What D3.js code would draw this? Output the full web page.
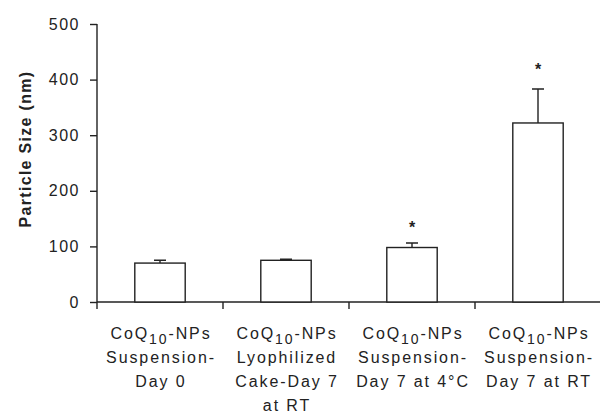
<!DOCTYPE html>
<html>
<head>
<meta charset="utf-8">
<script src="https://cdn.jsdelivr.net/npm/d3@7"></script>
<style>
  body { margin: 0; background: #fff; }
  svg { display: block; font-family: "Liberation Sans", Arial, sans-serif; }
</style>
</head>
<body>
<div id="chart"></div>
<script>
// data
const categories = [
  ["CoQ_{10}-NPs", "Suspension-", "Day 0"],
  ["CoQ_{10}-NPs", "Lyophilized", "Cake-Day 7", "at RT"],
  ["CoQ_{10}-NPs", "Suspension-", "Day 7 at 4°C"],
  ["CoQ_{10}-NPs", "Suspension-", "Day 7 at RT"]
];
const sizes = [70, 75, 98, 322];
const errors = [5, 2, 8, 61];
const significant = [false, false, true, true];
const yTicks = [0, 100, 200, 300, 400, 500];
const yTitle = "Particle Size (nm)";

const width = 600;
const height = 416;
const margin = {top: 24, right: -1, bottom: 114, left: 97};
const ink = "#222";

const svg = d3.select("#chart")
  .append("svg")
  .attr("width", width)
  .attr("height", height);

const idx = d3.range(categories.length);

const x = d3.scaleBand()
  .domain(idx)
  .range([margin.left, width - margin.right])
  .paddingInner(0.6)
  .paddingOuter(0.3);

const y = d3.scaleLinear()
  .domain([0, 500])
  .range([height - margin.bottom, margin.top]);

// y axis
const yAxis = svg.append("g")
  .attr("transform", `translate(${margin.left},0)`)
  .call(d3.axisLeft(y).tickValues(yTicks).tickSize(7).tickPadding(10));
yAxis.select(".domain").attr("stroke", ink).attr("stroke-width", 1.4)
  .attr("d", `M0,${y(500)}V${y(0)}`);
yAxis.selectAll(".tick line").attr("stroke", ink).attr("stroke-width", 1.4);
yAxis.selectAll(".tick text")
  .attr("fill", ink)
  .attr("font-size", 16)
  .attr("letter-spacing", 1.5)
  .attr("font-family", "Liberation Sans, Arial, sans-serif");

svg.append("text")
  .attr("transform", `translate(31,${(y(0) + y(500)) / 2 - 14}) rotate(-90)`)
  .attr("text-anchor", "middle")
  .attr("font-size", 16)
  .attr("font-weight", "bold")
  .attr("letter-spacing", 1.3)
  .attr("fill", ink)
  .text(yTitle);

// x axis line + boundary ticks
const step = x.step();
const left = x(0) - step * x.paddingOuter();
const bounds = d3.range(categories.length + 1).map(i => left + i * step);
svg.append("line")
  .attr("x1", margin.left).attr("x2", width)
  .attr("y1", y(0)).attr("y2", y(0))
  .attr("stroke", ink).attr("stroke-width", 1.4);
svg.append("g").selectAll("line")
  .data(bounds)
  .join("line")
  .attr("x1", d => d).attr("x2", d => d)
  .attr("y1", y(0)).attr("y2", y(0) + 7)
  .attr("stroke", ink).attr("stroke-width", 1.4);

// bars
const bars = svg.append("g");
bars.selectAll("rect")
  .data(idx)
  .join("rect")
  .attr("x", i => x(i))
  .attr("y", i => y(sizes[i]))
  .attr("width", x.bandwidth())
  .attr("height", i => y(0) - y(sizes[i]))
  .attr("fill", "#fff")
  .attr("stroke", ink)
  .attr("stroke-width", 1.4);

// error bars (upper only)
const cx = i => x(i) + x.bandwidth() / 2;
const eb = svg.append("g").attr("stroke", ink).attr("stroke-width", 1.4);
eb.selectAll("path")
  .data(idx)
  .join("path")
  .attr("fill", "none")
  .attr("d", i => `M${cx(i)},${y(sizes[i])}V${y(sizes[i] + errors[i])}M${cx(i) - 6},${y(sizes[i] + errors[i])}H${cx(i) + 6}`);

// significance stars
svg.append("g").selectAll("text")
  .data(idx.filter(i => significant[i]))
  .join("text")
  .attr("x", cx)
  .attr("y", i => y(sizes[i] + errors[i]) - 10 - errors[i] * 0.06)
  .attr("text-anchor", "middle")
  .attr("font-size", 16)
  .attr("font-weight", "bold")
  .attr("fill", ink)
  .text("*");

// category labels
const labels = svg.append("g")
  .attr("font-size", 16)
  .attr("letter-spacing", 1.9)
  .attr("fill", ink)
  .attr("text-anchor", "middle");
idx.forEach(i => {
  const t = labels.append("text").attr("x", cx(i) + 1).attr("y", y(0) + 37);
  categories[i].forEach((line, k) => {
    const m = line.match(/^(.*)_\{(.*)\}(.*)$/);
    if (m) {
      t.append("tspan").attr("x", cx(i) + 1).attr("dy", k ? 24 : 0).text(m[1]);
      t.append("tspan").attr("font-size", 14).attr("dy", 5).text(m[2]);
      t.append("tspan").attr("dy", -5).text(m[3]);
    } else {
      t.append("tspan").attr("x", cx(i) + 1).attr("dy", k ? 24 : 0).text(line);
    }
  });
});
</script>
</body>
</html>
